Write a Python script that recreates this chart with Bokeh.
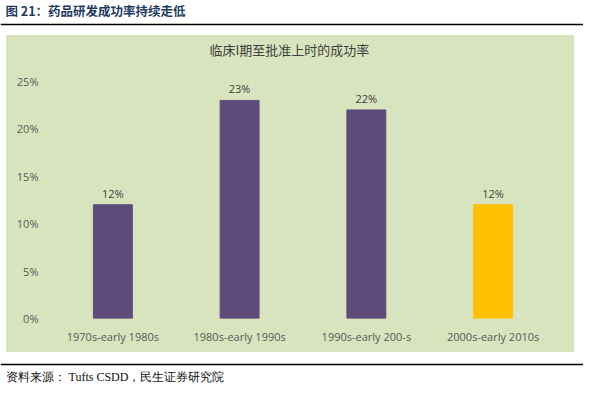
from bokeh.plotting import figure
from bokeh.models import ColumnDataSource, Range1d, Span, Label, LabelSet, NumeralTickFormatter, FixedTicker, Title
from bokeh.layouts import column
from bokeh.core.properties import value
from bokeh.embed import file_html
from bokeh.resources import INLINE

categories = ["1970s-early 1980s", "1980s-early 1990s", "1990s-early 200-s", "2000s-early 2010s"]
rates = [0.12, 0.23, 0.22, 0.12]
rate_labels = ["12%", "23%", "22%", "12%"]
bar_colors = ["#5F4B7B", "#5F4B7B", "#5F4B7B", "#FFC000"]
y_ticks = [0, 0.05, 0.10, 0.15, 0.20, 0.25]
header_text = "图 21：药品研发成功率持续走低"
chart_title = "临床I期至批准上时的成功率"
source_text = "资料来源： Tufts CSDD，民生证券研究院"

W = 583
GREEN = "#D8E4BE"
TXT = "#595959"


def blank(h):
    f = figure(width=W, height=h, x_range=Range1d(0, W), y_range=Range1d(0, h),
               toolbar_location=None, output_backend="svg",
               x_axis_location=None, y_axis_location=None, min_border=0)
    f.outline_line_color = None
    f.grid.visible = False
    f.background_fill_color = "white"
    f.border_fill_color = "white"
    f.frame_align = False
    return f


# header
header = blank(35)
header.add_layout(Label(x=5, y=25, text=header_text, text_baseline="middle",
                        text_font="Noto Sans CJK SC", text_font_style="bold",
                        text_font_size="12.5px", text_color="#1F3B63"))
header.add_layout(Span(location=11, dimension="width", line_color="black", line_width=1.5))

# main chart
src = ColumnDataSource(dict(cat=categories, rate=rates, label=rate_labels, color=bar_colors))
p = figure(width=568, height=317, x_range=categories, y_range=Range1d(0, 0.25),
           toolbar_location=None, output_backend="svg", title=None,
           min_border_left=43, min_border_right=18, min_border_top=46, min_border_bottom=34)
p.margin = (0, 9, 0, 6)
p.frame_align = False
p.styles = {"background-color": GREEN}
p.vbar(x="cat", top="rate", width=0.307, color="color", source=src)
p.add_layout(LabelSet(x="cat", y="rate", text="label", source=src, y_offset=4,
                      text_align="center", text_baseline="bottom",
                      text_font=value("Open Sans"), text_font_size="11px", text_color="#404040"))
p.background_fill_alpha = 0
p.border_fill_alpha = 0
p.outline_line_color = None
p.grid.visible = False

p.yaxis.ticker = FixedTicker(ticks=y_ticks)
p.yaxis.formatter = NumeralTickFormatter(format="0%")
for ax in (p.xaxis, p.yaxis):
    ax.axis_line_color = None
    ax.major_tick_line_color = None
    ax.minor_tick_line_color = None
    ax.major_label_text_font = "Open Sans"
    ax.major_label_text_font_size = "11px"
    ax.major_label_text_color = TXT
p.yaxis.major_label_standoff = 5
p.xaxis.major_label_standoff = 4

# spacer next to the frame, then the chart title further up
p.add_layout(Title(text=" ", text_font_size="2px", standoff=19), "above")
p.add_layout(Title(text=chart_title, align="left", offset=160, standoff=0,
                   text_font="Noto Sans CJK SC", text_font_style="normal",
                   text_font_size="13px", text_color="#404040"), "above")

# footer
footer = blank(31)
footer.add_layout(Span(location=19, dimension="width", line_color="black", line_width=1.5))
footer.add_layout(Label(x=5, y=7, text=source_text, text_baseline="middle",
                        text_font="Liberation Serif",
                        text_font_size="12px", text_color="#111111"))

layout = column(header, p, footer, spacing=0)
open("out.html", "w").write(file_html(layout, INLINE))
